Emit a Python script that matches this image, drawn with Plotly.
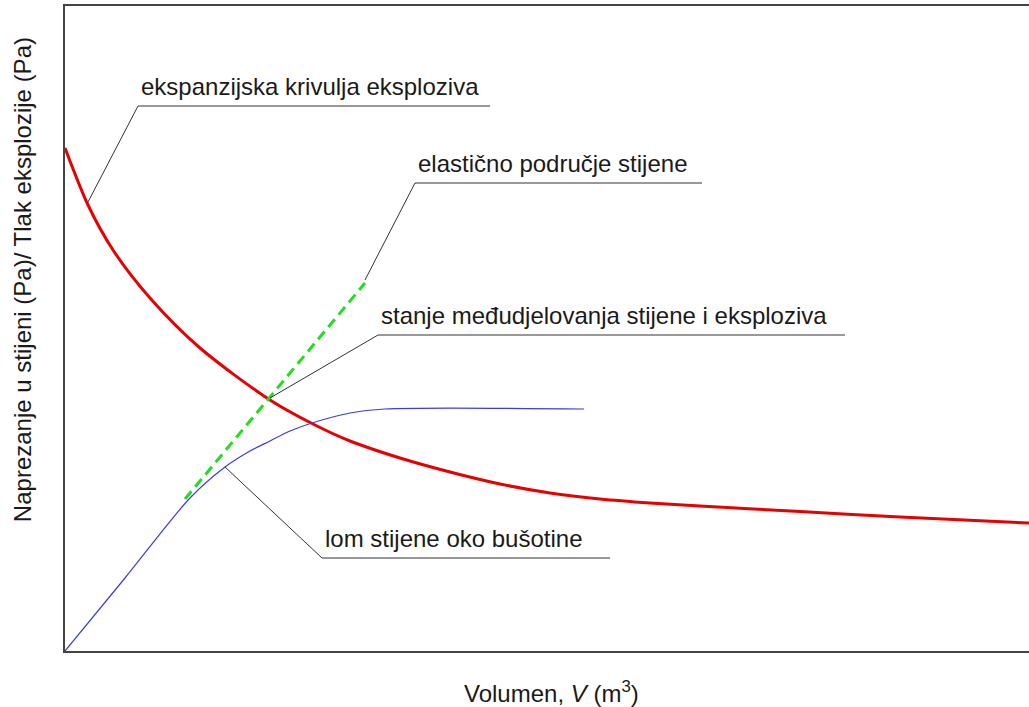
import plotly.graph_objects as go

# Expansion curve of the explosive (red)
red_x = [0, 23, 48, 85, 135, 205, 248, 285, 335, 385, 435, 485, 535, 585, 635, 735, 835, 964]
red_y = [503, 446, 401, 353, 303, 251, 227, 210, 193, 179, 167, 158, 152, 148, 145, 139.5, 134, 128]

# Rock response (blue)
blue_x = [0, 60, 125, 160, 185, 205, 225, 247, 285, 320, 519]
blue_y = [0, 73, 153, 184, 200, 210, 220, 228, 238, 242, 242]

# Elastic region of rock (green dashed)
green_x = [120, 300]
green_y = [152, 368]

labels = [
    "ekspanzijska krivulja eksploziva",
    "elastično područje stijene",
    "stanje međudjelovanja stijene i eksploziva",
    "lom stijene oko bušotine",
]
# (underline start x, underline y, underline end x, leader target x, leader target y)
label_pos = [
    (73, 545, 425, 23, 449),
    (350, 468, 637, 300, 371),
    (313, 316, 780, 205, 253),
    (257, 93, 545, 160, 184),
]

FONT = "Liberation Sans, Arial"

fig = go.Figure()
fig.add_trace(go.Scatter(x=red_x, y=red_y, mode="lines",
                         line=dict(color="#e60000", width=3, shape="spline", smoothing=0.8),
                         hoverinfo="skip"))
fig.add_trace(go.Scatter(x=blue_x, y=blue_y, mode="lines",
                         line=dict(color="#3a3ae6", width=1.2, shape="spline", smoothing=0.8),
                         hoverinfo="skip"))
fig.add_trace(go.Scatter(x=green_x, y=green_y, mode="lines", line=dict(color="#22dd22", width=3, dash="10px,6px"),
                         hoverinfo="skip"))

shapes = []
annotations = []
for txt, (ux, uy, uend, tx, ty) in zip(labels, label_pos):
    shapes.append(dict(type="line", x0=ux, y0=uy, x1=uend, y1=uy, xref="x", yref="y",
                       line=dict(color="#333333", width=1)))
    shapes.append(dict(type="line", x0=ux, y0=uy, x1=tx, y1=ty, xref="x", yref="y",
                       line=dict(color="#333333", width=1)))
    annotations.append(dict(x=ux + 1, y=uy + 4, xref="x", yref="y", text=txt, showarrow=False,
                            xanchor="left", yanchor="bottom",
                            font=dict(family=FONT, size=24, color="#1a1a1a")))

annotations.append(dict(x=-0.0446, y=0.575, xref="paper", yref="paper",
                        text="Naprezanje u stijeni (Pa)/ Tlak eksplozije (Pa)",
                        textangle=-90, showarrow=False, xanchor="center", yanchor="middle",
                        font=dict(family=FONT, size=24, color="#1a1a1a")))
annotations.append(dict(x=0.505, y=-0.0636, xref="paper", yref="paper",
                        text="Volumen, <i>V</i> (m<sup>3</sup>)",
                        showarrow=False, xanchor="center", yanchor="middle",
                        font=dict(family=FONT, size=24, color="#1a1a1a")))

fig.update_layout(
    width=1029, height=707,
    margin=dict(l=65, r=0, t=6, b=56),
    plot_bgcolor="white", paper_bgcolor="white",
    showlegend=False,
    shapes=shapes,
    annotations=annotations,
    xaxis=dict(range=[0, 964], showgrid=False, zeroline=False, showticklabels=False, ticks="",
               showline=True, linecolor="#444444", linewidth=2, mirror=True),
    yaxis=dict(range=[0, 645], showgrid=False, zeroline=False, showticklabels=False, ticks="",
               showline=True, linecolor="#444444", linewidth=2),
)

fig.write_html("out.html", config={"displayModeBar": False},
               post_script="document.body.style.margin='0';document.body.style.overflow='hidden';")
